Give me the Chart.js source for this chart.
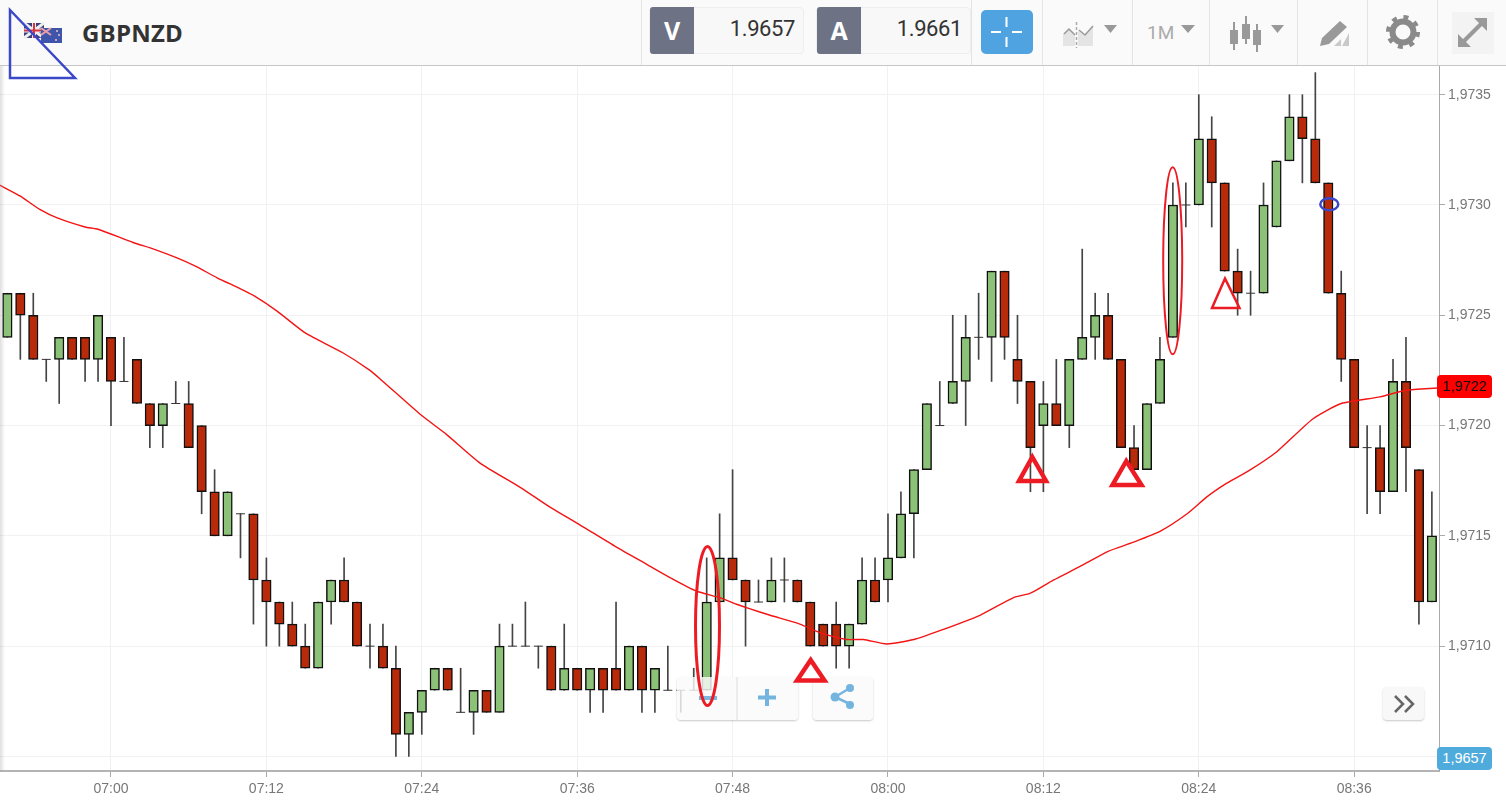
<!DOCTYPE html>
<html lang="en">
<head>
<meta charset="UTF-8">
<title>GBPNZD</title>
<script src="https://cdn.jsdelivr.net/npm/chart.js"></script>
<style>
  html, body { margin: 0; padding: 0; background: #fff; width: 1506px; height: 805px; overflow: hidden; }
  #header { position: absolute; left: 0; top: 0; width: 1506px; height: 65px; background: #fafafa; border-bottom: 1px solid #c6c6c6; }
  #symbol { position: absolute; left: 82px; top: 16px; font: bold 24px "Open Sans", sans-serif; color: #333; letter-spacing: .2px; }
  .sep { position: absolute; top: 0; width: 1px; height: 65px; background: #e4e4e4; }
  .priceBox { position: absolute; top: 7px; width: 155px; height: 47px; background: #f8f8f8; border: 1px solid #eee; border-radius: 4px; box-sizing: border-box; }
  .priceBox b { position: absolute; left: 0; top: -1px; width: 44px; height: 47px; line-height: 47px; background: #6d7285; color: #fff; text-align: center; font: bold 25px/47px "Open Sans", sans-serif; border-radius: 3px 0 0 3px; }
  .priceBox span { position: absolute; right: 8px; top: 8px; font: 22px Roboto, sans-serif; color: #333; letter-spacing: -.4px; }
  #tf { position: absolute; left: 1147px; top: 21px; font: 19px Roboto, sans-serif; color: #aaa; }
  #chartWrap { position: absolute; left: 0; top: 66px; width: 1506px; height: 739px; }
  #edge { position: absolute; left: 0; top: 66px; width: 5px; height: 705px; background: linear-gradient(to right, rgba(150,150,150,.3), rgba(150,150,150,0)); }
  .btn { position: absolute; background: rgba(250,250,250,.82); border-radius: 4px; box-shadow: 0 1px 2px rgba(0,0,0,.22); }
  .badge { position: absolute; left: 1437px; width: 55px; height: 23px; line-height: 23px; border-radius: 4px; text-align: center; font: 14.5px/23px "Liberation Sans", sans-serif; }
  svg.over { position: absolute; left: 0; top: 0; pointer-events: none; }
</style>
</head>
<body>

<div id="chartWrap"><canvas id="candles" width="1506" height="739"></canvas></div>
<div id="edge"></div>

<div id="header">
  <div id="symbol">GBPNZD</div>
  <div class="sep" style="left:641px"></div>
  <div class="sep" style="left:971px"></div>
  <div class="sep" style="left:1042px"></div>
  <div class="sep" style="left:1132px"></div>
  <div class="sep" style="left:1209px"></div>
  <div class="sep" style="left:1297px"></div>
  <div class="sep" style="left:1367px"></div>
  <div class="sep" style="left:1437px"></div>
  <div class="priceBox" style="left:649px"><b>V</b><span>1.9657</span></div>
  <div class="priceBox" style="left:816px"><b>A</b><span>1.9661</span></div>
  <div id="tf">1M</div>
</div>

<!-- botoes sobre o grafico -->
<div class="btn" style="left:677px;top:677px;width:121px;height:43px"></div>
<div class="btn" style="left:813px;top:677px;width:60px;height:43px"></div>
<div class="btn" style="left:1383px;top:687px;width:41px;height:33px;background:#f8f8f8"></div>

<div class="badge" style="top:375px;background:#f00;color:#111">1,9722</div>
<div class="badge" style="top:747px;background:#4fabdc;color:#fff">1,9657</div>

<svg class="over" width="1506" height="805">
  <!-- bandeiras -->
  <rect x="24" y="23" width="20" height="15" fill="#39407f"/>
  <path d="M24 23L44 38M44 23L24 38" stroke="#eee" stroke-width="3"/>
  <path d="M34 23V38M24 30.5H44" stroke="#eee" stroke-width="4"/>
  <path d="M34 23V38M24 30.5H44" stroke="#d8343f" stroke-width="2"/>
  <rect x="41" y="28" width="21" height="15" fill="#3f55ab"/>
  <path d="M41 28L51 35M51 28L41 35" stroke="#e8a0a8" stroke-width="2"/>
  <circle cx="57" cy="31" r="1" fill="#f2c0c5"/><circle cx="59" cy="35" r="1" fill="#f2c0c5"/><circle cx="56" cy="40" r="1" fill="#f2c0c5"/>

  <!-- botao mira -->
  <rect x="981" y="10" width="52" height="44" rx="5" fill="#4ea3e0"/>
  <path d="M1006.500 17V27M1006.500 37V47M991 32H1001M1012 32H1022" stroke="#fff" stroke-width="2"/>

  <!-- icones da barra -->
  <path d="M1063 46V34L1069 29L1075 35V46Z" fill="#e4e4e4"/>
  <path d="M1078 46V30L1085 36L1093 26V46Z" fill="#e4e4e4"/>
  <path d="M1064 34L1069 29L1075 35" fill="none" stroke="#999" stroke-width="1.500"/>
  <path d="M1079 30L1085 35L1093 26" fill="none" stroke="#999" stroke-width="1.500"/>
  <path d="M1076.500 22V48" stroke="#aaa" stroke-width="1.500" stroke-dasharray="3 2"/>
  <path d="M1104 25H1117L1110.500 33Z" fill="#999"/>
  <path d="M1181 25H1195L1188 33Z" fill="#999"/>
  <path d="M1234 22V50M1246 16V44M1257 24V52" stroke="#999" stroke-width="2"/>
  <rect x="1230" y="30" width="8" height="14" fill="#999"/>
  <rect x="1242" y="24" width="8" height="15" fill="#999"/>
  <rect x="1253" y="30" width="8" height="15" fill="#999"/>
  <path d="M1271 25H1284L1277.500 33Z" fill="#999"/>
  <path d="M1322 38L1340 21L1347 27L1329 44L1320 46Z" fill="#999"/>
  <path d="M1334 46L1341 39V46ZM1342 46L1349 33V46Z" fill="#c9c9c9"/>
  <circle cx="1403" cy="32" r="10.500" fill="none" stroke="#8a8a8a" stroke-width="6"/>
  <circle cx="1403" cy="32" r="15" fill="none" stroke="#8a8a8a" stroke-width="4" stroke-dasharray="5 6.780"/>
  <rect x="1452" y="12" width="42" height="42" fill="#f3f3f3"/>
  <path d="M1461 44L1483 22" stroke="#999" stroke-width="4"/>
  <path d="M1474 18H1487V31ZM1458 34V47H1471Z" fill="#999"/>

  <!-- mais, menos, compartilhar, avancar -->
  <path d="M699 698H717" stroke="#7ab8e0" stroke-width="4"/>
  <path d="M737 677V720" stroke="#ddd"/>
  <path d="M758 697.500H776M767 689V706" stroke="#74b5e0" stroke-width="4"/>
  <path d="M850 688L835 697L850 704" fill="none" stroke="#74b5e0" stroke-width="2.500"/>
  <circle cx="835" cy="697" r="4.500" fill="#74b5e0"/><circle cx="850" cy="688" r="4" fill="#74b5e0"/><circle cx="850" cy="705" r="4" fill="#74b5e0"/>
  <path d="M1395 696L1403 704L1395 712M1405 696L1413 704L1405 712" fill="none" stroke="#666" stroke-width="2.500"/>

  <!-- marcacoes a mao -->
  <path d="M10 10L75 78H10Z" fill="none" stroke="#3b48c8" stroke-width="2.500"/>
  <ellipse cx="707.500" cy="626" rx="12" ry="79.500" fill="none" stroke="#ed1c24" stroke-width="3"/>
  <ellipse cx="1172.700" cy="260.700" rx="9.500" ry="93.500" fill="none" stroke="#ed1c24" stroke-width="2"/>
  <path d="M810.700 660L797 680.500H824.500Z" fill="none" stroke="#ed1c24" stroke-width="4.500"/>
  <path d="M1032.300 457L1019 481H1046Z" fill="none" stroke="#ed1c24" stroke-width="4.500"/>
  <path d="M1126.300 461L1112.500 485H1141.500Z" fill="none" stroke="#ed1c24" stroke-width="4.500"/>
  <path d="M1225 278.500L1212 308H1239.500Z" fill="none" stroke="#ed1c24" stroke-width="2.500"/>
  <ellipse cx="1329.300" cy="204.300" rx="9" ry="6" fill="none" stroke="#3b48c8" stroke-width="2.500"/>
</svg>

<script>
// minutos a partir das 07:00 (06:52 ... 08:42)
const minutes = [
  -8,-7,-6,-5,-4,-3,-2,-1,0,1,2,3,4,5,6,7,8,9,10,11,
  12,13,14,15,16,17,18,19,20,21,22,23,24,25,26,27,28,29,30,31,
  32,33,34,35,36,37,38,39,40,41,42,43,44,45,46,47,48,49,50,51,
  52,53,54,55,56,57,58,59,60,61,62,63,64,65,66,67,68,69,70,71,
  72,73,74,75,76,77,78,79,80,81,82,83,84,85,86,87,88,89,90,91,
  92,93,94,95,96,97,98,99,100,101,102
];

const opens = [
  1.9724,1.9726,1.9725,1.9723,1.9723,1.9724,1.9724,1.9723,1.9724,1.9722,
  1.9723,1.9721,1.9720,1.9721,1.9721,1.9720,1.9717,1.9715,1.9716,1.9716,
  1.9713,1.9712,1.9711,1.9710,1.9709,1.9712,1.9713,1.9712,1.9710,1.9710,
  1.9709,1.9706,1.9707,1.9708,1.9709,1.9707,1.9707,1.9708,1.9707,1.9710,
  1.9710,1.9710,1.9710,1.9708,1.9709,1.9708,1.9709,1.9709,1.9708,1.9710,
  1.9708,1.9708,1.9708,1.9708,1.9708,1.9712,1.9714,1.9713,1.9712,1.9712,
  1.9713,1.9713,1.9712,1.9711,1.9711,1.9710,1.9711,1.9713,1.9713,1.9714,
  1.9716,1.9718,1.9720,1.9721,1.9722,1.9724,1.9724,1.9727,1.9723,1.9722,
  1.9720,1.9721,1.9720,1.9723,1.9724,1.9725,1.9723,1.9719,1.9718,1.9721,
  1.9724,1.9730,1.9730,1.9733,1.9731,1.9727,1.9726,1.9726,1.9729,1.9732,
  1.9734,1.9733,1.9731,1.9726,1.9723,1.9719,1.9719,1.9717,1.9722,1.9718,1.9712
];

const closes = [
  1.9726,1.9725,1.9723,1.9723,1.9724,1.9723,1.9723,1.9725,1.9722,1.9722,
  1.9721,1.9720,1.9721,1.9721,1.9719,1.9717,1.9715,1.9717,1.9716,1.9713,
  1.9712,1.9711,1.9710,1.9709,1.9712,1.9713,1.9712,1.9710,1.9710,1.9709,
  1.9706,1.9707,1.9708,1.9709,1.9708,1.9707,1.9708,1.9707,1.9710,1.9710,
  1.9710,1.9710,1.9708,1.9709,1.9708,1.9709,1.9708,1.9708,1.9710,1.9708,
  1.9709,1.9708,1.9708,1.9708,1.9712,1.9714,1.9713,1.9712,1.9712,1.9713,
  1.9713,1.9712,1.9710,1.9710,1.9710,1.9711,1.9713,1.9712,1.9714,1.9716,
  1.9718,1.9721,1.9720,1.9722,1.9724,1.9724,1.9727,1.9724,1.9722,1.9719,
  1.9721,1.9720,1.9723,1.9724,1.9725,1.9723,1.9719,1.9718,1.9721,1.9723,
  1.9730,1.9730,1.9733,1.9731,1.9727,1.9726,1.9726,1.9730,1.9732,1.9734,
  1.9733,1.9731,1.9726,1.9723,1.9719,1.9719,1.9717,1.9722,1.9719,1.9712,1.9715
];

const highs = [
  1.9726,1.9726,1.9726,1.9723,1.9724,1.9724,1.9724,1.9725,1.9724,1.9724,
  1.9723,1.9721,1.9721,1.9722,1.9722,1.9720,1.9718,1.9717,1.9716,1.9716,
  1.9714,1.9712,1.9712,1.9711,1.9712,1.9713,1.9714,1.9712,1.9711,1.9711,
  1.9710,1.9707,1.9708,1.9709,1.9709,1.9709,1.9708,1.9708,1.9711,1.9711,
  1.9712,1.9710,1.9710,1.9711,1.9709,1.9709,1.9709,1.9712,1.9710,1.9710,
  1.9709,1.9710,1.9708,1.9709,1.9714,1.9716,1.9718,1.9713,1.9713,1.9714,
  1.9714,1.9713,1.9712,1.9711,1.9712,1.9711,1.9714,1.9714,1.9716,1.9717,
  1.9718,1.9721,1.9722,1.9725,1.9725,1.9726,1.9727,1.9727,1.9725,1.9722,
  1.9722,1.9723,1.9723,1.9728,1.9726,1.9726,1.9723,1.9720,1.9721,1.9724,
  1.9731,1.9731,1.9735,1.9734,1.9731,1.9728,1.9727,1.9731,1.9732,1.9735,
  1.9735,1.9736,1.9731,1.9727,1.9723,1.9720,1.9720,1.9723,1.9724,1.9718,1.9717
];

const lows = [
  1.9724,1.9723,1.9723,1.9722,1.9721,1.9723,1.9722,1.9722,1.9720,1.9722,
  1.9721,1.9719,1.9719,1.9721,1.9719,1.9716,1.9715,1.9715,1.9714,1.9711,
  1.9710,1.9710,1.9710,1.9709,1.9709,1.9711,1.9712,1.9710,1.9709,1.9709,
  1.9705,1.9705,1.9706,1.9708,1.9708,1.9707,1.9706,1.9707,1.9707,1.9710,
  1.9710,1.9709,1.9708,1.9708,1.9708,1.9707,1.9707,1.9708,1.9708,1.9707,
  1.9707,1.9708,1.9707,1.9708,1.9708,1.9712,1.9713,1.9710,1.9712,1.9712,
  1.9712,1.9712,1.9710,1.9710,1.9709,1.9709,1.9711,1.9712,1.9712,1.9714,
  1.9714,1.9718,1.9720,1.9721,1.9720,1.9723,1.9722,1.9723,1.9721,1.9717,
  1.9717,1.9720,1.9719,1.9723,1.9723,1.9723,1.9719,1.9718,1.9718,1.9721,
  1.9724,1.9729,1.9730,1.9729,1.9727,1.9725,1.9725,1.9726,1.9729,1.9732,
  1.9731,1.9731,1.9726,1.9722,1.9719,1.9716,1.9716,1.9717,1.9717,1.9711,1.9712
];

// media movel
const maMinutes = [
  -8.6,-7,-5.5,-4.1,-2,-1,1.7,3.3,5.1,6.6,8.2,10,11,12.8,15,17.9,20,21,23.9,25.9,
  28.5,31.6,33.9,36.2,39,41.4,43.2,45.2,47,48.3,49.3,50.9,53.2,54.8,56.8,58.1,59.9,62,64,67.1,
  69.7,71,72.8,74.8,77,78.9,81,83.1,84.7,86.2,88,90,92.8,95,98,100,102.4
];
const maValues = [
  1.97309,1.97304,1.97298,1.97294,1.97290,1.97289,1.97283,1.97280,1.97276,1.97272,
  1.97267,1.97262,1.97259,1.97252,1.97242,1.97233,1.97225,1.97220,1.97205,1.97196,
  1.97183,1.97172,1.97163,1.97155,1.97145,1.97137,1.97131,1.97125,1.97122,1.97119,
  1.97117,1.97114,1.97110,1.97106,1.97103,1.97103,1.97101,1.97103,1.97107,1.97114,
  1.97122,1.97124,1.97130,1.97136,1.97143,1.97147,1.97152,1.97160,1.97168,1.97174,
  1.97180,1.97188,1.97203,1.97210,1.97213,1.97216,1.97217
];

const xTicks = [0, 12, 24, 36, 48, 60, 72, 84, 96];
const xTickLabels = ['07:00', '07:12', '07:24', '07:36', '07:48', '08:00', '08:12', '08:24', '08:36'];
const yTicks = [1.9705, 1.971, 1.9715, 1.972, 1.9725, 1.973, 1.9735];

const GREEN = '#8cc278';
const RED = '#b82a0a';
const axisFont = { family: '"Liberation Sans", Arial, sans-serif', size: 14 };

const wicks = minutes.map((m, i) => ({ x: m, y: [lows[i], highs[i]] }));
const bodies = minutes.map((m, i) => ({ x: m, y: [opens[i], closes[i]], up: closes[i] > opens[i] }))
    .filter(c => c.y[0] !== c.y[1]);
const dojis = minutes.map((m, i) => ({ x: m, y: opens[i], flat: opens[i] === closes[i] }))
    .filter(c => c.flat);
const movingAverage = maMinutes.map((m, i) => ({ x: m, y: maValues[i] }));

new Chart(document.getElementById('candles'), {
    type: 'bar',
    data: {
        datasets: [
            {
                type: 'line',
                data: movingAverage,
                borderColor: '#f31414',
                borderWidth: 1.4,
                pointRadius: 0,
                tension: 0.2,
                order: 0
            },
            {
                type: 'scatter',
                data: dojis,
                pointStyle: 'line',
                pointRadius: 4.5,
                borderColor: '#333',
                backgroundColor: '#333',
                borderWidth: 1,
                order: 1
            },
            {
                data: bodies,
                grouped: false,
                barThickness: 9.5,
                borderWidth: 1.5,
                borderSkipped: false,
                borderColor: '#111',
                backgroundColor: ctx => ctx.raw.up ? GREEN : RED,
                order: 2
            },
            {
                data: wicks,
                grouped: false,
                barThickness: 1,
                borderWidth: 0,
                backgroundColor: '#444',
                order: 3
            }
        ]
    },
    options: {
        responsive: false,
        animation: false,
        events: [],
        layout: { autoPadding: false, padding: 0 },
        plugins: { legend: { display: false }, tooltip: { enabled: false } },
        scales: {
            x: {
                type: 'linear',
                min: -8.571,
                max: 102.55,
                offset: false,
                afterFit: axis => { axis.height = 34; axis.paddingLeft = 0; axis.paddingRight = 0; },
                afterBuildTicks: axis => { axis.ticks = xTicks.map(v => ({ value: v })); },
                grid: { offset: false, color: '#f1f1f1', tickColor: '#aaa', tickLength: 6, lineWidth: 1 },
                border: { color: '#b4b4b4', width: 2 },
                ticks: {
                    font: axisFont,
                    color: '#777',
                    padding: 4,
                    maxRotation: 0,
                    autoSkip: false,
                    callback: v => xTickLabels[xTicks.indexOf(v)]
                }
            },
            y: {
                position: 'right',
                min: 1.970434,
                max: 1.97363,
                afterFit: axis => { axis.width = 67; axis.paddingTop = 0; axis.paddingBottom = 0; },
                afterBuildTicks: axis => { axis.ticks = yTicks.map(v => ({ value: v })); },
                grid: { color: '#f1f1f1', tickColor: '#aaa', tickLength: 6, lineWidth: 1 },
                border: { color: '#aaa', width: 1 },
                ticks: {
                    font: axisFont,
                    color: '#777',
                    padding: 3,
                    callback: v => v.toFixed(4).replace('.', ',')
                }
            }
        }
    }
});
</script>
</body>
</html>
